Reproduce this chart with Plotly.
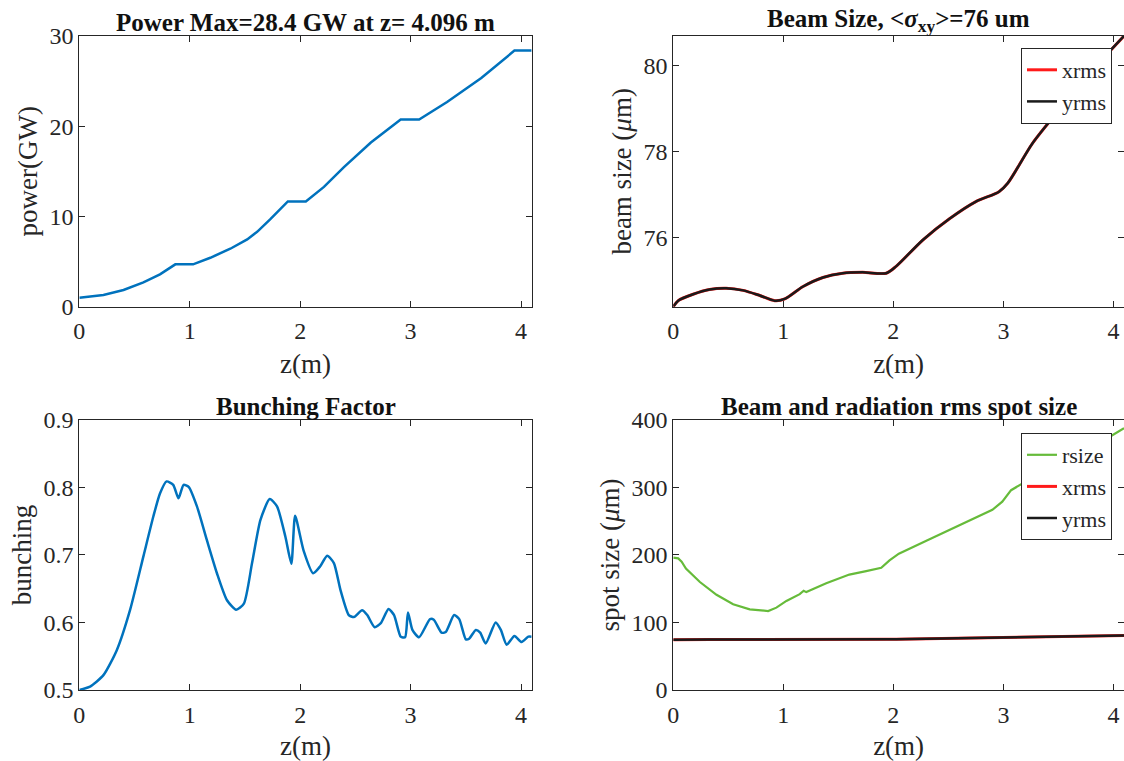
import plotly.graph_objects as go
from plotly.subplots import make_subplots

# ---------------- data ----------------
z_power = [0, 0.218, 0.40, 0.58, 0.73, 0.869, 1.03, 1.186, 1.367, 1.52, 1.61, 1.73, 1.888,
           2.051, 2.215, 2.396, 2.64, 2.91, 3.077, 3.33, 3.64, 3.94, 4.096]
power = [1.0, 1.29, 1.85, 2.69, 3.58, 4.69, 4.69, 5.42, 6.42, 7.45, 8.30, 9.70, 11.66,
         11.66, 13.28, 15.46, 18.19, 20.74, 20.74, 22.69, 25.35, 28.38, 28.38]

z_beam = [0, 0.045, 0.18, 0.33, 0.48, 0.635, 0.786, 0.922, 1.013, 1.18, 1.36, 1.54, 1.72,
          1.935, 2.025, 2.27, 2.51, 2.75, 2.96, 3.04, 3.265, 3.507, 3.75, 3.99, 4.096]
yrms = [74.38, 74.52, 74.67, 74.78, 74.81, 74.76, 74.64, 74.52, 74.56, 74.85, 75.06, 75.16, 75.18,
        75.16, 75.32, 75.94, 76.43, 76.83, 77.06, 77.26, 78.19, 78.97, 79.74, 80.40, 80.69]
xrms = [74.38, 74.52, 74.67, 74.78, 74.81, 74.76, 74.64, 74.52, 74.56, 74.85, 75.06, 75.16, 75.18,
        75.16, 75.32, 75.94, 76.43, 76.83, 77.06, 77.26, 78.19, 78.97, 79.74, 80.40, 80.69]

z_bunch = [0, 0.097, 0.218, 0.339, 0.46, 0.58, 0.67, 0.73, 0.79, 0.85, 0.898, 0.944, 0.99,
           1.065, 1.155, 1.246, 1.337, 1.42, 1.49, 1.564, 1.64, 1.724, 1.79, 1.866, 1.92, 1.954,
           2.03, 2.117, 2.18, 2.244, 2.305, 2.365, 2.44, 2.486, 2.56, 2.607, 2.674, 2.73, 2.80,
           2.85, 2.91, 2.95, 2.976, 3.016, 3.076, 3.176, 3.21, 3.28, 3.318, 3.394, 3.44, 3.50,
           3.53, 3.59, 3.63, 3.68, 3.77, 3.817, 3.87, 3.94, 4.005, 4.066, 4.096]
bunching = [0.500, 0.505, 0.522, 0.559, 0.619, 0.698, 0.757, 0.791, 0.809, 0.804, 0.784, 0.804, 0.801,
            0.772, 0.722, 0.673, 0.633, 0.619, 0.628, 0.688, 0.752, 0.783, 0.772, 0.727, 0.687, 0.758,
            0.707, 0.673, 0.683, 0.699, 0.688, 0.648, 0.611, 0.608, 0.618, 0.611, 0.593, 0.599, 0.620,
            0.611, 0.579, 0.578, 0.615, 0.589, 0.578, 0.605, 0.604, 0.585, 0.586, 0.611, 0.605, 0.575,
            0.576, 0.589, 0.585, 0.569, 0.600, 0.589, 0.567, 0.580, 0.571, 0.579, 0.579]

z_rsize = [0, 0.045, 0.076, 0.115, 0.242, 0.393, 0.544, 0.695, 0.862, 0.937, 1.028, 1.149, 1.185,
           1.209, 1.39, 1.60, 1.753, 1.89, 1.965, 2.05, 2.30, 2.60, 2.90, 2.99, 3.07, 3.3, 3.6,
           3.9, 3.975, 4.096]
rsize = [196, 195, 190, 180, 160, 141, 127, 119.5, 117, 122, 132, 142, 147,
         145, 158, 171, 176, 181, 192, 202, 221, 244, 267, 279, 296, 318, 345,
         370, 376, 388]

# ---------------- styling ----------------
FONT = "Liberation Serif"
AX = "#262626"
BLUE = "#0072BD"
GREEN = "#66BB3A"
RED = "#FF1A1A"
BLACK = "#1a1a1a"

fig = make_subplots(rows=2, cols=2)

fig.add_trace(go.Scatter(x=z_power, y=power, mode="lines", line=dict(color=BLUE, width=2.5),
                         showlegend=False), row=1, col=1)
fig.add_trace(go.Scatter(x=z_beam, y=xrms, mode="lines", name="xrms",
                         line=dict(color=RED, width=3, shape="spline", smoothing=0.8),
                         legend="legend"), row=1, col=2)
fig.add_trace(go.Scatter(x=z_beam, y=yrms, mode="lines", name="yrms",
                         line=dict(color=BLACK, width=2.5, shape="spline", smoothing=0.8),
                         legend="legend"), row=1, col=2)
fig.add_trace(go.Scatter(x=z_bunch, y=bunching, mode="lines",
                         line=dict(color=BLUE, width=2.5, shape="spline", smoothing=0.6),
                         showlegend=False), row=2, col=1)
fig.add_trace(go.Scatter(x=z_rsize, y=rsize, mode="lines", name="rsize",
                         line=dict(color=GREEN, width=2.2), legend="legend2"), row=2, col=2)
fig.add_trace(go.Scatter(x=z_beam, y=xrms, mode="lines", name="xrms",
                         line=dict(color=RED, width=3), legend="legend2"), row=2, col=2)
fig.add_trace(go.Scatter(x=z_beam, y=yrms, mode="lines", name="yrms",
                         line=dict(color=BLACK, width=2.5), legend="legend2"), row=2, col=2)

xl = [0.0706, 0.473]
xr = [0.599, 1.0]
yt = [0.597, 0.9527]
yb = [0.0933, 0.4481]

common = dict(showline=True, linecolor=AX, linewidth=1, mirror="allticks", ticks="inside",
              ticklen=6, tickcolor=AX, tickfont=dict(family=FONT, size=24, color=AX),
              showgrid=False, zeroline=False, automargin=False)
xcommon = dict(common, range=[0, 4.096], tickvals=[0, 1, 2, 3, 4], ticklabelstandoff=3,
               title=dict(text="z(m)", font=dict(family=FONT, size=27, color=AX), standoff=10))

ytitle = lambda t: dict(text=t, font=dict(family=FONT, size=27, color=AX), standoff=4)

fig.update_layout(
    xaxis=dict(xcommon, domain=xl, anchor="y"),
    yaxis=dict(common, domain=yt, anchor="x", range=[0, 30], tickvals=[0, 10, 20, 30],
               title=ytitle("power(GW)")),
    xaxis2=dict(xcommon, domain=xr, anchor="y2"),
    yaxis2=dict(common, domain=yt, anchor="x2", range=[74.38, 80.69], tickvals=[76, 78, 80],
                title=ytitle("beam size (<i>μ</i>m)")),
    xaxis3=dict(xcommon, domain=xl, anchor="y3"),
    yaxis3=dict(common, domain=yb, anchor="x3", range=[0.5, 0.9], tickvals=[0.5, 0.6, 0.7, 0.8, 0.9],
                tickformat=".1f", title=ytitle("bunching")),
    xaxis4=dict(xcommon, domain=xr, anchor="y4"),
    yaxis4=dict(common, domain=yb, anchor="x4", range=[0, 400], tickvals=[0, 100, 200, 300, 400],
                title=ytitle("spot size (<i>μ</i>m)")),
    width=1124, height=761,
    margin=dict(l=0, r=0, t=0, b=0, autoexpand=False),
    paper_bgcolor="white", plot_bgcolor="white",
    font=dict(family=FONT, color=AX),
    legend=dict(x=0.9893, xanchor="right", y=1 - 48 / 761, yanchor="top",
                bgcolor="white", bordercolor=AX, borderwidth=1,
                font=dict(family=FONT, size=22, color=AX), tracegroupgap=0, itemwidth=30),
    legend2=dict(x=0.9893, xanchor="right", y=1 - 433 / 761, yanchor="top",
                 bgcolor="white", bordercolor=AX, borderwidth=1,
                 font=dict(family=FONT, size=22, color=AX), tracegroupgap=0, itemwidth=30),
    showlegend=True,
)

titles = [
    ("Power Max=28.4 GW at z= 4.096 m", xl, yt),
    ("Beam Size, &lt;<i>σ</i><sub>xy</sub>&gt;=76 um", xr, yt),
    ("Bunching Factor", xl, yb),
    ("Beam and radiation rms spot size", xr, yb),
]
for text, xd, yd in titles:
    fig.add_annotation(text="<b>" + text + "</b>", xref="paper", yref="paper",
                       x=(xd[0] + xd[1]) / 2, y=yd[1], xanchor="center", yanchor="bottom",
                       showarrow=False, yshift=-2,
                       font=dict(family=FONT, size=25, color="#111111"))

fig.write_html("out.html")
